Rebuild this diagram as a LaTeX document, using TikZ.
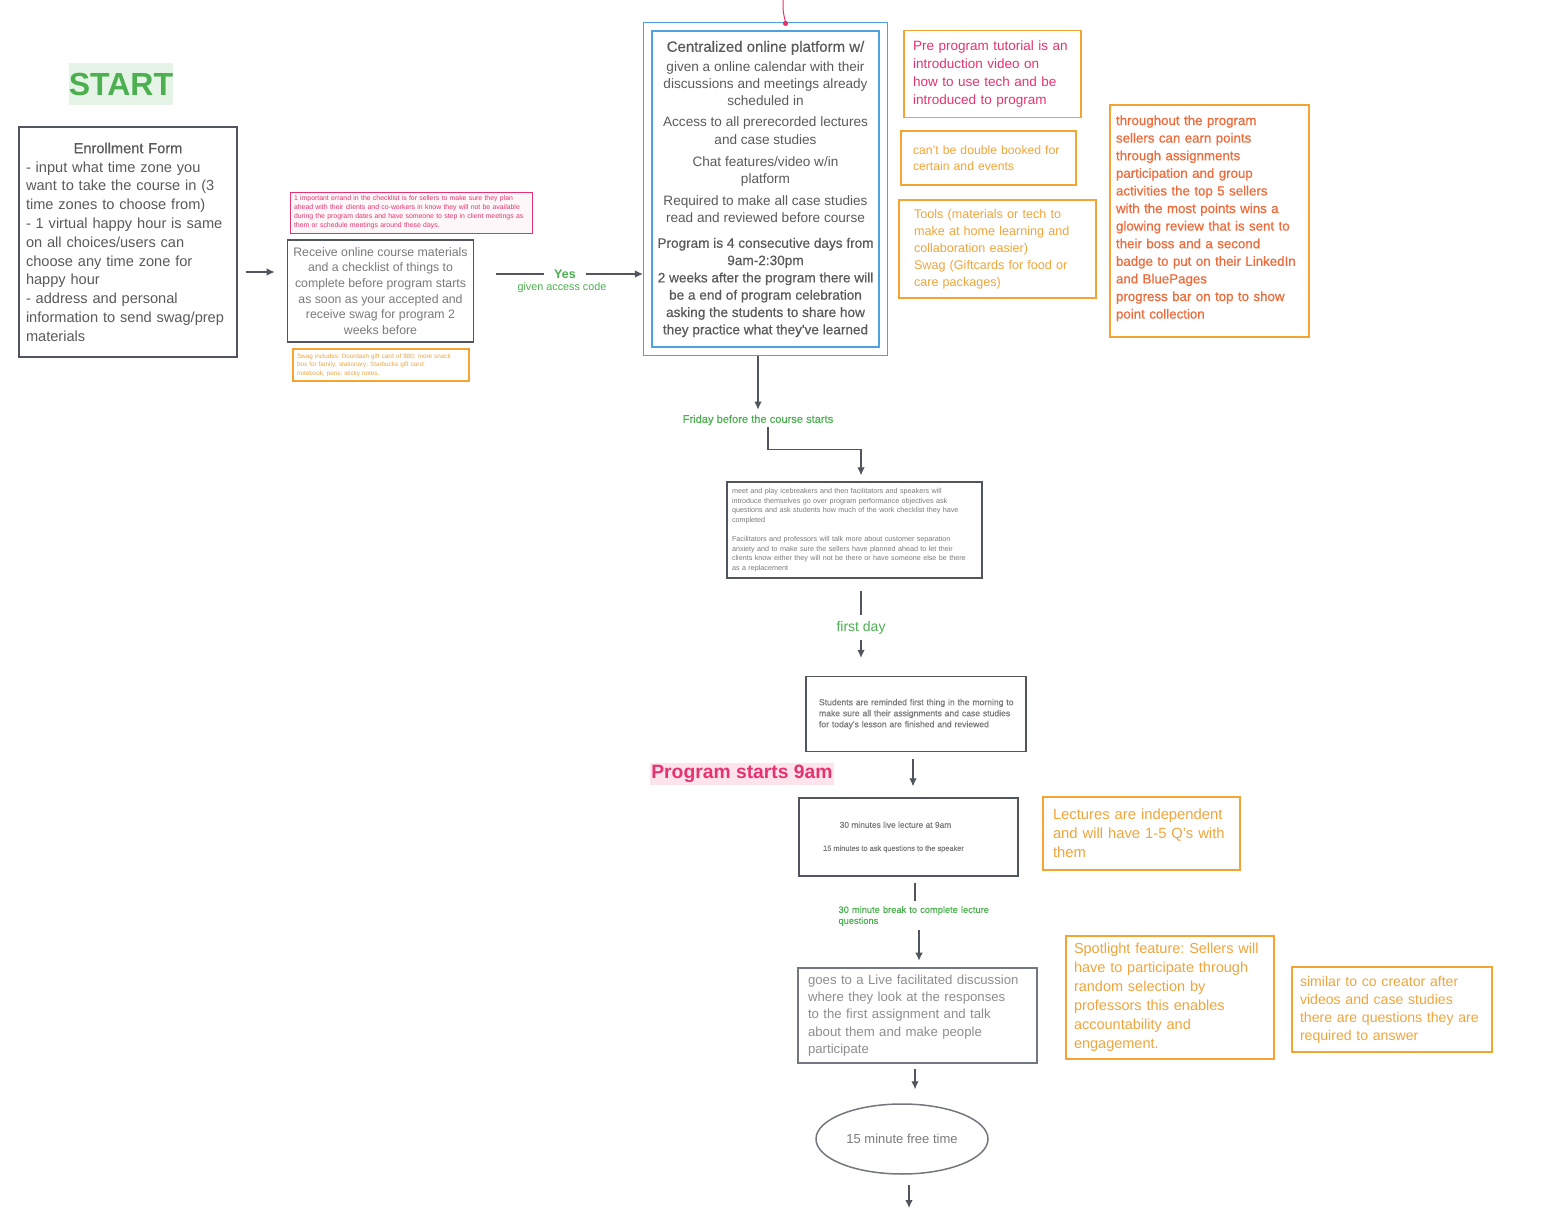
\documentclass[tikz,border=0pt]{standalone}
\usepackage{fontspec}
\setmainfont{Liberation Sans}
\newfontfamily\medfont[FakeBold=0.6]{Liberation Sans}
\usepackage{tikz}
\definecolor{boxGray}{HTML}{50555E}
\definecolor{txtDark}{HTML}{5A5A5A}
\definecolor{txtLight}{HTML}{7A7A7A}
\definecolor{flowGreen}{HTML}{4CAF50}
\definecolor{startBg}{HTML}{E6F4E7}
\definecolor{pinkText}{HTML}{E6336F}
\definecolor{pinkBg}{HTML}{FDE3EC}
\definecolor{noteOrange}{HTML}{F4A430}
\definecolor{noteText}{HTML}{F0A53C}
\definecolor{coralText}{HTML}{EE6B3B}
\definecolor{platBlue}{HTML}{4DA3DF}
\usetikzlibrary{shapes, arrows, arrows.meta, positioning, fit, backgrounds}
\newcommand{\fsz}[2]{\fontsize{#1}{#2}\selectfont}
\tikzstyle{block} = [draw=boxGray, line width=1.3pt, fill=white, rectangle, inner sep=6pt]
\tikzstyle{note} = [draw=noteOrange, line width=1.8pt, fill=white, rectangle, align=left, text=noteText]
\tikzstyle{flowlabel} = [text=flowGreen, inner sep=2pt]
\tikzstyle{line} = [draw=boxGray, line width=1.1pt]
\frenchspacing

\begin{document}
\begin{tikzpicture}[x=1pt, y=-1pt, >={Latex[length=8pt,width=7.5pt]}, auto]
        \useasboundingbox (0,0) rectangle (1559,1214);
        % We start by placing the blocks
        \node [fill=startBg, text=flowGreen, font=\fsz{32}{34}\bfseries, minimum width=103pt, minimum height=42pt, inner sep=0pt] (start) at (121,84) {START};
        \node [block, minimum width=218pt, minimum height=230pt, text width=204pt, inner xsep=7pt, align=left, text=txtDark, font=\fsz{14.6}{18.8}] (enroll) at (128,242) {\makebox[204pt]{\medfont Enrollment Form}\\
            - input what time zone you\\ want to take the course in (3\\ time zones to choose from)\\ - 1 virtual happy hour is same\\ on all choices/users can\\ choose any time zone for\\ happy hour\\ - address and personal\\ information to send swag/prep\\ materials};
        \node [draw=pinkText, line width=0.9pt, fill=pinkText!4, minimum width=242pt, minimum height=41pt, text width=234pt, inner xsep=4pt, align=left, text=pinkText, font=\fsz{6.9}{9}] (errandNote) at (411,212.5) {1 important errand in the checklist is for sellers to make sure they plan\\ ahead with their clients and co-workers in know they will not be available\\ during the program dates and have someone to step in client meetings as\\ them or schedule meetings around these days.};
        \node [block, minimum width=183pt, minimum height=102pt, align=center, text=txtLight, font=\fsz{12.3}{15.6}] (receive) at (380.5,291) {Receive online course materials\\ and a checklist of things to\\ complete before program starts\\ as soon as your accepted and\\ receive swag for program 2\\ weeks before};
        \node [note, line width=1.2pt, minimum width=176pt, minimum height=32pt, text width=168pt, inner xsep=4pt, font=\fsz{6.3}{8.5}] (swagNote) at (381,365) {Swag includes: Doordash gift card of \$80; more snack\\ box for family; stationary: Starbucks gift card;\\ notebook; pens; sticky notes.};
        \node [flowlabel, font=\fsz{12.5}{14}\bfseries, inner xsep=10pt] (yes) at (565,274) {Yes};
        \node [flowlabel, font=\fsz{10.8}{12}] (access) at (562,288) {given access code};
        \node [draw=platBlue, line width=1.1pt, minimum width=227pt, minimum height=316pt, align=center, text=txtDark, font=\fsz{13.6}{17.3}, inner sep=2pt] (central) at (765.5,189) {{\fsz{15}{17}\medfont Centralized online platform w/}\\[2pt]
            given a online calendar with their\\ discussions and meetings already\\ scheduled in\\[4pt]
            Access to all prerecorded lectures\\ and case studies\\[5pt]
            Chat features/video w/in\\ platform\\[4pt]
            Required to make all case studies\\ read and reviewed before course\\[8pt]
            {\medfont Program is 4 consecutive days from}\\ {\medfont 9am-2:30pm}\\ {\medfont 2 weeks after the program there will}\\ {\medfont be a end of program celebration}\\ {\medfont asking the students to share how}\\ {\medfont they practice what they've learned}};
        \node [fit=(central), draw=platBlue, line width=1.1pt, inner sep=8pt] (centralFrame) {};

        % notes next to the platform
        \node [note, minimum width=177pt, minimum height=87pt, text width=159pt, inner xsep=9pt, text=pinkText, font=\fsz{13.5}{18}] (tutorialNote) at (992.5,74) {Pre program tutorial is an\\ introduction video on\\ how to use tech and be\\ introduced to program};
        \node [note, minimum width=175pt, minimum height=54pt, text width=151pt, inner xsep=12pt, font=\fsz{12.2}{16.5}] (bookedNote) at (988.5,158) {can't be double booked for\\ certain and events};
        \node [note, line width=2.4pt, minimum width=197pt, minimum height=98pt, text width=167pt, inner xsep=15pt, font=\fsz{12.6}{17}] (toolsNote) at (997.5,249) {Tools (materials or tech to\\ make at home learning and\\ collaboration easier)\\ Swag (Giftcards for food or\\ care packages)};
        \node [note, minimum width=199pt, minimum height=232pt, text width=187pt, inner xsep=6pt, text=coralText, font=\fsz{13.3}{17.6}\medfont] (pointsNote) at (1209.5,221) {throughout the program\\ sellers can earn points\\ through assignments\\ participation and group\\ activities the top 5 sellers\\ with the most points wins a\\ glowing review that is sent to\\ their boss and a second\\ badge to put on their LinkedIn\\ and BluePages\\ progress bar on top to show\\ point collection\\[-9.6pt]\mbox{}};

        % the first day
        \node [flowlabel, font=\fsz{11.1}{12}\medfont] (friday) at (758,420) {Friday before the course starts};
        \node [block, minimum width=255pt, minimum height=96pt, text width=249pt, inner xsep=3pt, align=left, text=txtLight, font=\fsz{7.2}{9.6}] (meet) at (854.5,530) {\hspace*{2pt}meet and play icebreakers and then facilitators and speakers will\\ \hspace*{2pt}introduce themselves go over program performance objectives ask\\ \hspace*{2pt}questions and ask students how much of the work checklist they have\\ \hspace*{2pt}completed\\[9.6pt]
            \hspace*{2pt}Facilitators and professors will talk more about customer separation\\ \hspace*{2pt}anxiety and to make sure the sellers have planned ahead to let their\\ \hspace*{2pt}clients know either they will not be there or have someone else be there\\ \hspace*{2pt}as a replacement};
        \node [flowlabel, font=\fsz{14}{16}] (firstDay) at (861,628) {first day};
        \node [block, minimum width=220pt, minimum height=75pt, text width=200pt, inner xsep=10pt, align=left, text=txtLight, font=\fsz{8.6}{11}\medfont] (students) at (916,714) {\hspace*{3pt}Students are reminded first thing in the morning to\\ \hspace*{3pt}make sure all their assignments and case studies\\ \hspace*{3pt}for today's lesson are finished and reviewed};
        \node [fill=pinkBg, text=pinkText, font=\fsz{19.3}{21}\bfseries, inner xsep=1pt, inner ysep=2pt] (progStart) at (742,774) {Program starts 9am};
        \node [block, minimum width=219pt, minimum height=78pt, align=center, text=txtLight, font=\fsz{7.4}{9}\medfont] (lecture) at (908.5,837) {{\fsz{8.4}{10}\medfont 30 minutes live lecture at 9am}\hspace*{26pt}\\[14pt] 15 minutes to ask questions to the speaker\hspace*{30pt}};
        \node [note, minimum width=197pt, minimum height=73pt, text width=177pt, inner xsep=10pt, font=\fsz{14.8}{19}] (lectNote) at (1141.5,833.5) {Lectures are independent\\ and will have 1-5 Q's with\\ them\\[2pt]};
        \node [flowlabel, text width=155pt, align=left, font=\fsz{9.3}{11}\medfont, inner sep=3pt] (breakLbl) at (916,916) {30 minute break to complete lecture\\ questions};
        \node [block, draw=boxGray!80, line width=2.6pt, minimum width=239pt, minimum height=95pt, text width=219pt, inner xsep=10pt, align=left, text=txtLight!85, font=\fsz{13.2}{17.3}] (discussion) at (917.5,1015.5) {goes to a Live facilitated discussion\\ where they look at the responses\\ to the first assignment and talk\\ about them and make people\\ participate};
        \node [note, minimum width=208pt, minimum height=123pt, text width=192pt, inner xsep=8pt, font=\fsz{14.5}{19}] (spotNote) at (1170,997.5) {Spotlight feature: Sellers will\\ have to participate through\\ random selection by\\ professors this enables\\ accountability and\\ engagement.};
        \node [note, minimum width=200pt, minimum height=85pt, text width=184pt, inner xsep=8pt, font=\fsz{14.1}{18}] (similarNote) at (1392,1009.5) {similar to co creator after\\ videos and case studies\\ there are questions they are\\ required to answer};
        \node [ellipse, draw=boxGray!80, line width=1.5pt, minimum width=172pt, minimum height=70pt, text=txtLight, font=\fsz{13}{15}] (freeTime) at (902,1139) {15 minute free time};
        \coordinate (topEnd) at (783,0);
        \coordinate (bottomEnd) at (909,1208);

        % Once the nodes are placed, connecting them is easy.
        \draw [draw=pinkText, line width=1pt] (topEnd) .. controls (783,12) .. ([xshift=20pt]centralFrame.north);
        \fill [pinkText] ([xshift=20pt,yshift=-1.5pt]centralFrame.north) circle (2.6pt);
        \draw [line,->, shorten <=8pt, shorten >=12pt] ([yshift=-30pt]enroll.east) -- ([yshift=19pt]receive.west);
        \draw [line, shorten <=22pt] ([yshift=17pt]receive.east) -- (yes.west);
        \draw [line,->] (yes.east) -- (yes.east -| centralFrame.west);
        \draw [line,->, shorten >=3pt] (friday.north |- centralFrame.south) -- (friday.north);
        \draw [line,->, shorten >=6pt] ([xshift=10pt]friday.south) -- ++(0,22) -| ([xshift=6.5pt]meet.north);
        \draw [line, shorten <=12pt, shorten >=4pt] (firstDay.north |- meet.south) -- (firstDay.north);
        \draw [line,->, shorten <=3pt, shorten >=18pt] (firstDay.south) -- (firstDay.south |- students.north);
        \draw [line,->, shorten <=7pt, shorten >=11pt] ([xshift=-3pt]students.south) -- ([xshift=4.5pt]lecture.north);
        \draw [line, shorten <=6pt, shorten >=2pt] ([xshift=6.5pt]lecture.south) -- ([xshift=-1pt]breakLbl.north);
        \draw [line,->, shorten <=1pt, shorten >=6pt] ([xshift=3pt]breakLbl.south) -- ([xshift=1.5pt]discussion.north);
        \draw [line,->, shorten <=5pt, shorten >=14pt] ([xshift=-2.5pt]discussion.south) -- ([xshift=13pt]freeTime.north);
        \draw [line,->, shorten <=10pt] ([xshift=7pt]freeTime.south) -- (bottomEnd);
    \end{tikzpicture}
\end{document}
